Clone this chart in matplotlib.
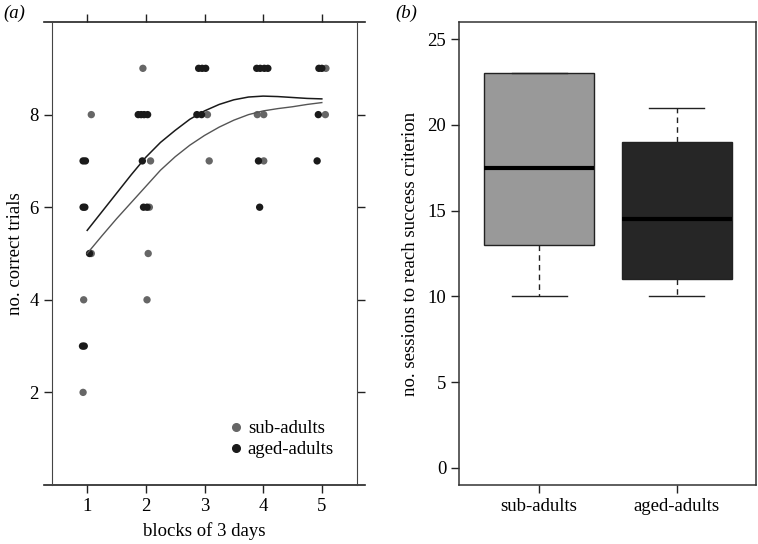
import numpy as np
import matplotlib
matplotlib.use("Agg")
import matplotlib.pyplot as plt
from matplotlib.lines import Line2D

plt.rcParams['font.family'] = ['Liberation Serif', 'DejaVu Serif']
plt.rcParams['font.size'] = 13.5

# ---- panel (a): correct trials per block (jittered x)
sub_x = [1.95, 1.07, 3.05, 3.90, 4.01, 5.06, 5.07, 2.08, 3.08, 4.01, 2.06, 1.07, 2.04, 0.94, 2.02, 0.93]
sub_y = [9, 8, 8, 8, 8, 8, 9, 7, 7, 7, 6, 5, 5, 4, 4, 2]

aged_x = [2.90, 2.96, 3.02, 3.89, 3.95, 4.02, 4.08, 4.95, 5.00,
          1.87, 1.92, 1.97, 2.03, 2.87, 2.95, 4.94,
          0.93, 0.97, 1.94, 3.92, 4.92,
          0.93, 0.96, 1.96, 2.02, 3.94,
          1.04, 0.92, 0.95]
aged_y = [9, 9, 9, 9, 9, 9, 9, 9, 9,
          8, 8, 8, 8, 8, 8, 8,
          7, 7, 7, 7, 7,
          6, 6, 6, 6, 6,
          5, 3, 3]

# smoothed trend lines
curve_x = [1, 1.25, 1.5, 1.75, 2, 2.25, 2.5, 2.75, 3, 3.25, 3.5, 3.75, 4, 4.25, 4.5, 4.75, 5]
aged_curve = [5.5, 5.9, 6.3, 6.7, 7.08, 7.4, 7.66, 7.9, 8.08, 8.22, 8.32, 8.38, 8.40, 8.39, 8.37, 8.35, 8.34]
sub_curve = [5.0, 5.38, 5.75, 6.1, 6.45, 6.8, 7.09, 7.34, 7.55, 7.73, 7.88, 8.0, 8.08, 8.13, 8.17, 8.22, 8.26]

# ---- panel (b): boxplot stats
groups = ["sub-adults", "aged-adults"]
whislo = [10, 10]
q1 = [13, 11]
med = [17.5, 14.5]
q3 = [23, 19]
whishi = [23, 21]
box_colors = ["#999999", "#262626"]

grey = "#666666"
black = "#1a1a1a"

fig = plt.figure(figsize=(7.58, 5.44), dpi=100)
ax1 = fig.add_axes([0.0686, 0.1085, 0.4024, 0.851])
ax2 = fig.add_axes([0.606, 0.1085, 0.392, 0.851])

ax1.plot(curve_x, sub_curve, color="#555555", lw=1.0, zorder=3)
ax1.plot(curve_x, aged_curve, color=black, lw=1.1, zorder=3)
ax1.scatter(sub_x, sub_y, s=28, color=grey, edgecolors="none", zorder=2)
ax1.scatter(aged_x, aged_y, s=28, color=black, edgecolors="none", zorder=2)

ax1.set_xlim(0.4, 5.6)
ax1.set_ylim(0, 10)
ax1.set_xticks([1, 2, 3, 4, 5])
ax1.set_yticks([2, 4, 6, 8])
ax1.tick_params(direction="out", length=6, width=1, top=True, right=True,
                labeltop=False, labelright=False, color="#222222")
ax1.spines["top"].set_visible(False)
ax1.spines["bottom"].set_visible(False)
for s in ["left", "right"]:
    ax1.spines[s].set_color("#444444")
for yy in [0, 1]:
    ax1.add_line(Line2D([-0.026, 1.026], [yy, yy], transform=ax1.transAxes,
                        color="#222222", lw=1.2, clip_on=False))
ax1.set_xlabel("blocks of 3 days", labelpad=5)
ax1.set_ylabel("no. correct trials", labelpad=4)

h1 = Line2D([], [], marker="o", ls="none", color=grey, markersize=5.5)
h2 = Line2D([], [], marker="o", ls="none", color=black, markersize=5.5)
ax1.legend([h1, h2], ["sub-adults", "aged-adults"], loc="upper left",
           bbox_to_anchor=(0.565, 0.14), frameon=False, handletextpad=0.05,
           handlelength=1.2, labelspacing=0.2, borderaxespad=0.0,
           borderpad=0.0)

# ---- panel (b)
stats = []
for i in range(len(groups)):
    stats.append(dict(whislo=whislo[i], q1=q1[i], med=med[i], q3=q3[i],
                      whishi=whishi[i], fliers=[], label=groups[i]))
bp = ax2.bxp(stats, positions=[1, 2], widths=0.8, patch_artist=True,
             showfliers=False,
             boxprops=dict(edgecolor="#222222", lw=1.0),
             medianprops=dict(color="black", lw=3),
             whiskerprops=dict(color="#222222", lw=1.0, ls=(0, (4, 3))),
             capprops=dict(color="#222222", lw=1.0),
             capwidths=0.4)
for patch, c in zip(bp["boxes"], box_colors):
    patch.set_facecolor(c)

ax2.set_xlim(0.42, 2.58)
ax2.set_ylim(-1, 26)
ax2.set_yticks([0, 5, 10, 15, 20, 25])
ax2.tick_params(direction="out", length=6, width=1, color="#222222")
for s in ax2.spines.values():
    s.set_color("#333333")
    s.set_linewidth(1.1)
ax2.set_ylabel("no. sessions to reach success criterion", labelpad=6)

fig.text(0.005, 0.975, "(a)", style="italic", ha="left", va="center")
fig.text(0.521, 0.975, "(b)", style="italic", ha="left", va="center")

fig.savefig("out.png", dpi=100)
